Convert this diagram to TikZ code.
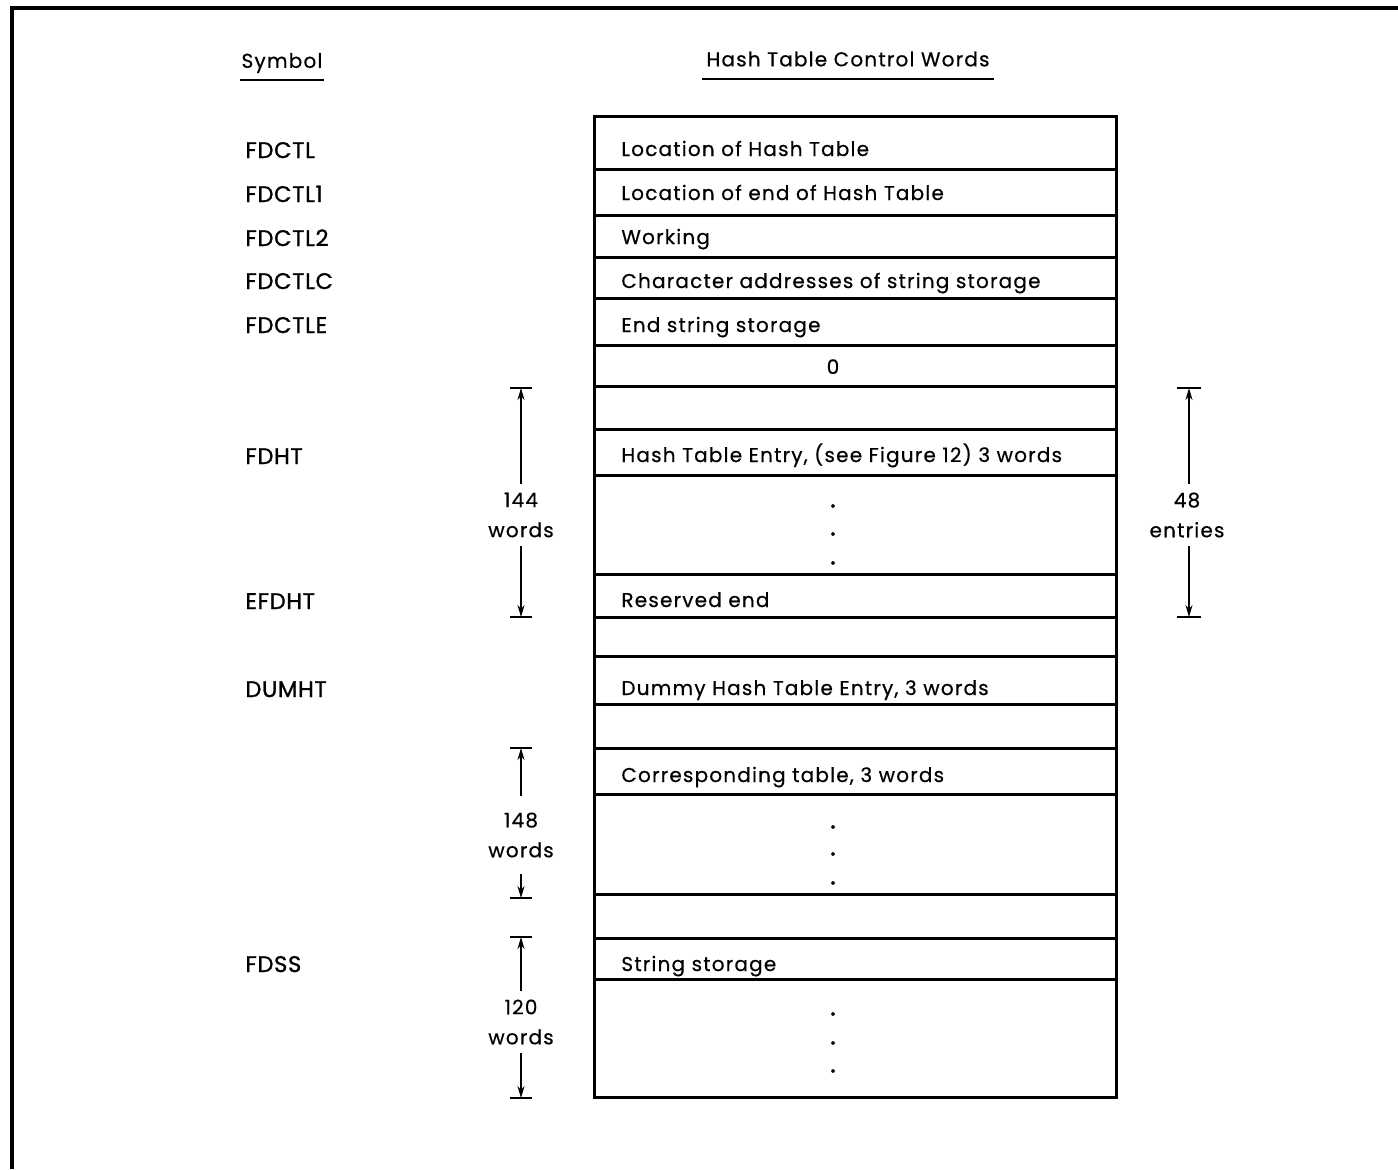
\documentclass[tikz,border=0pt]{standalone}
\usepackage{fontspec}
\setmainfont{Poppins}[LetterSpace=6, FakeBold=0.5]
\newfontfamily\symfont{Poppins}[LetterSpace=3, FakeBold=1.2]
\usetikzlibrary{arrows.meta, positioning}

\tikzset{
  rowtext/.style={anchor=base west, inner sep=0pt},
  symtext/.style={anchor=base west, inner sep=0pt, font=\symfont\fontsize{11.3}{13}\selectfont},
  dimtext/.style={align=center, inner sep=4pt, font=\fontsize{10}{15}\selectfont},
  dotmark/.style={inner sep=0pt, font=\symfont\fontsize{13}{13}\selectfont},
  dimline/.style={line width=0.6pt, -{Stealth[length=6pt, width=3.5pt]}},
  dimbar/.style={line width=0.9pt},
  rule/.style={line width=1.5pt},
}

\begin{document}
\begin{tikzpicture}[x=0.5pt, y=-0.5pt, font=\fontsize{10}{12}\selectfont]
	\useasboundingbox (0,0) rectangle (1398,1169);
	\draw[line width=2pt] (12,1169) -- (12,8) -- (1398,8);

	% headings
	\node (symhead) at (282,63) {Symbol};
	\node (ctlhead) at (848,59) {Hash Table Control Words};
	\draw[line width=0.9pt] (240,80) -- (324,80);
	\draw[line width=0.9pt] (702,79) -- (994,79);

	% table of words
	\draw[rule] (594,116) rectangle (1116,1097);
	\foreach \y in {169,215,257,298,345,386,429,475,574,617,656,704,748,794,894,938,979}
		\draw[rule] (594,\y) -- (1116,\y);

	\node[rowtext] (loc) at (621,156) {Location of Hash Table};
	\node[rowtext] (locend) at (621,200) {Location of end of Hash Table};
	\node[rowtext] (work) at (621,244) {Working};
	\node[rowtext] (chad) at (621,288) {Character addresses of string storage};
	\node[rowtext] (endss) at (621,332) {End string storage};
	\node[anchor=base, inner sep=0pt] (zero) at (833,374) {0};
	\node[rowtext] (htent) at (621,462) {Hash Table Entry, (see Figure 12) 3 words};
	\node[rowtext] (resend) at (621,607) {Reserved end};
	\node[rowtext] (dummy) at (621,695) {Dummy Hash Table Entry, 3 words};
	\node[rowtext] (corr) at (621,782) {Corresponding table, 3 words};
	\node[rowtext] (strst) at (621,971) {String storage};

	% vertical dots
	\foreach \y [count=\i] in {506,534,563} \node[dotmark] (hdot\i) at (833,\y) {.};
	\foreach \y [count=\i] in {827,854,883} \node[dotmark] (cdot\i) at (833,\y) {.};
	\foreach \y [count=\i] in {1014,1043,1071} \node[dotmark] (sdot\i) at (833,\y) {.};

	% symbols
	\node[symtext] (fdctl) at (245,158) {FDCTL};
	\node[symtext] (fdctla) at (245,202) {FDCTL1};
	\node[symtext] (fdctlb) at (245,246) {FDCTL2};
	\node[symtext] (fdctlc) at (245,289) {FDCTLC};
	\node[symtext] (fdctle) at (245,333) {FDCTLE};
	\node[symtext] (fdht) at (245,464) {FDHT};
	\node[symtext] (efdht) at (245,609) {EFDHT};
	\node[symtext] (dumht) at (245,697) {DUMHT};
	\node[symtext] (fdss) at (245,972) {FDSS};

	% 144 words
	\coordinate (wtop) at (521,388);
	\coordinate (wbot) at (521,617);
	\node[dimtext] (wlab) at (521,515) {144\\words};
	\draw[dimline] (wlab) -- (wtop);
	\draw[dimline] (wlab) -- (wbot);
	\draw[dimbar] (wtop) ++(-11,0) -- ++(22,0);
	\draw[dimbar] (wbot) ++(-11,0) -- ++(22,0);

	% 48 entries
	\coordinate (etop) at (1189,388);
	\coordinate (ebot) at (1189,617);
	\node[dimtext] (elab) at (1187,515) {48\\entries};
	\draw[dimline] (elab.north -| etop) -- (etop);
	\draw[dimline] (elab.south -| ebot) -- (ebot);
	\draw[dimbar] (etop) ++(-12,0) -- ++(24,0);
	\draw[dimbar] (ebot) ++(-12,0) -- ++(24,0);

	% 148 words
	\coordinate (ctop) at (521,748);
	\coordinate (cbot) at (521,898);
	\node[dimtext, inner ysep=8pt] (clab) at (521,835) {148\\words};
	\draw[dimline] (clab) -- (ctop);
	\draw[dimline] (clab) -- (cbot);
	\draw[dimbar] (ctop) ++(-11,0) -- ++(22,0);
	\draw[dimbar] (cbot) ++(-11,0) -- ++(22,0);

	% 120 words
	\coordinate (stop) at (521,937);
	\coordinate (sbot) at (521,1098);
	\node[dimtext] (slab) at (521,1022) {120\\words};
	\draw[dimline] (slab) -- (stop);
	\draw[dimline] (slab) -- (sbot);
	\draw[dimbar] (stop) ++(-11,0) -- ++(22,0);
	\draw[dimbar] (sbot) ++(-11,0) -- ++(22,0);
\end{tikzpicture}
\end{document}
